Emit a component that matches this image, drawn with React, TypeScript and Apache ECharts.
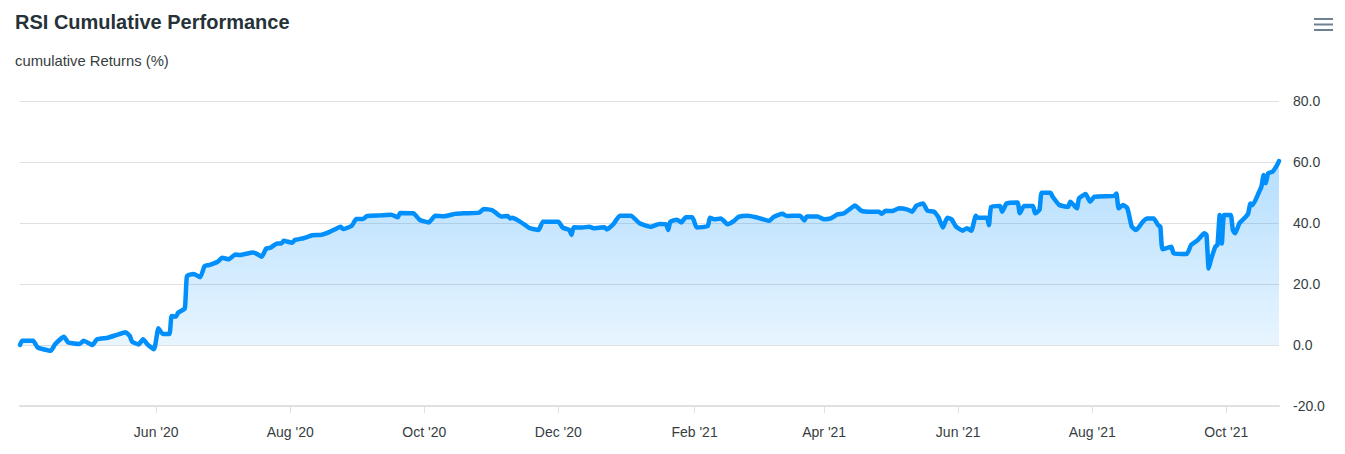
import React, { useEffect, useRef } from "react";
import * as echarts from "echarts";

const dates = [
  "2020-03-31","2020-04-01","2020-04-06","2020-04-08","2020-04-14","2020-04-16","2020-04-20","2020-04-22","2020-04-27","2020-04-29",
  "2020-05-03","2020-05-05","2020-05-10","2020-05-14","2020-05-18","2020-05-20","2020-05-21","2020-05-24","2020-05-26","2020-05-28",
  "2020-05-31","2020-06-02","2020-06-04","2020-06-07","2020-06-08","2020-06-10","2020-06-11","2020-06-14","2020-06-15","2020-06-18",
  "2020-06-21","2020-06-23","2020-06-25","2020-06-29","2020-07-01","2020-07-04","2020-07-07","2020-07-09","2020-07-15","2020-07-17",
  "2020-07-19","2020-07-21","2020-07-23","2020-07-26","2020-07-28","2020-07-29","2020-08-02","2020-08-03","2020-08-07","2020-08-11",
  "2020-08-15","2020-08-19","2020-08-24","2020-08-25","2020-08-29","2020-08-31","2020-09-03","2020-09-05","2020-09-11","2020-09-16",
  "2020-09-19","2020-09-20","2020-09-26","2020-09-29","2020-10-03","2020-10-06","2020-10-10","2020-10-15","2020-10-19","2020-10-26",
  "2020-10-28","2020-11-01","2020-11-05","2020-11-08","2020-11-09","2020-11-10","2020-11-13","2020-11-16","2020-11-18","2020-11-22",
  "2020-11-24","2020-12-01","2020-12-03","2020-12-06","2020-12-07","2020-12-08","2020-12-12","2020-12-15","2020-12-17","2020-12-22",
  "2020-12-23","2020-12-26","2020-12-29","2021-01-03","2021-01-07","2021-01-12","2021-01-16","2021-01-19","2021-01-20","2021-01-21",
  "2021-01-24","2021-01-26","2021-01-28","2021-01-31","2021-02-02","2021-02-07","2021-02-08","2021-02-10","2021-02-13","2021-02-16",
  "2021-02-19","2021-02-21","2021-02-25","2021-03-01","2021-03-07","2021-03-09","2021-03-13","2021-03-15","2021-03-21","2021-03-23",
  "2021-03-24","2021-03-29","2021-04-01","2021-04-04","2021-04-07","2021-04-10","2021-04-14","2021-04-15","2021-04-18","2021-04-22",
  "2021-04-26","2021-04-27","2021-04-29","2021-05-02","2021-05-05","2021-05-09","2021-05-11","2021-05-13","2021-05-16","2021-05-18",
  "2021-05-21","2021-05-23","2021-05-25","2021-05-27","2021-05-29","2021-05-31","2021-06-03","2021-06-05","2021-06-07","2021-06-09",
  "2021-06-10","2021-06-14","2021-06-15","2021-06-16","2021-06-20","2021-06-21","2021-06-23","2021-06-28","2021-06-29","2021-07-01",
  "2021-07-05","2021-07-06","2021-07-08","2021-07-09","2021-07-13","2021-07-14","2021-07-17","2021-07-21","2021-07-22","2021-07-25",
  "2021-07-26","2021-07-29","2021-07-31","2021-08-02","2021-08-11","2021-08-12","2021-08-13","2021-08-15","2021-08-17","2021-08-19",
  "2021-08-21","2021-08-24","2021-08-26","2021-08-29","2021-08-31","2021-09-01","2021-09-02","2021-09-06","2021-09-07","2021-09-13",
  "2021-09-15","2021-09-18","2021-09-21","2021-09-22","2021-09-23","2021-09-24","2021-09-26","2021-09-27","2021-09-28","2021-09-29",
  "2021-09-30","2021-10-03","2021-10-04","2021-10-05","2021-10-07","2021-10-10","2021-10-11","2021-10-12","2021-10-13","2021-10-16",
  "2021-10-17","2021-10-18","2021-10-19","2021-10-20","2021-10-22","2021-10-24","2021-10-25",
];

const cumulativeReturns = [
  0, 1.4, 1.4, -0.8, -1.9, 0.3, 2.7, 0.8, 0.3, 1.4,
  0, 1.9, 2.4, 3.3, 4.2, 2.9, 1.1, 0.2, 1.9, 0.2,
  -1.4, 5.5, 3.6, 3.6, 9.5, 9.3, 10.6, 12.0, 22.6, 23.3,
  22.2, 25.9, 26.2, 27.3, 28.6, 28.1, 29.7, 29.5, 30.3, 29.8,
  28.9, 31.6, 31.9, 33.3, 33.3, 34.2, 33.5, 34.4, 35.0, 36.0,
  36.1, 37.1, 38.8, 38.0, 39.1, 41.3, 41.3, 42.3, 42.5, 42.7,
  41.9, 43.3, 43.2, 41.0, 40.2, 42.4, 42.2, 43.0, 43.2, 43.4,
  44.6, 44.2, 42.1, 42.3, 41.5, 41.7, 40.7, 39.3, 38.3, 37.7,
  40.4, 40.4, 38.5, 37.7, 36.1, 38.6, 38.5, 38.8, 38.3, 38.6,
  37.9, 39.6, 42.4, 42.4, 39.9, 38.8, 39.7, 39.6, 37.7, 40.4,
  41.1, 40.2, 41.9, 41.9, 38.5, 39.0, 41.7, 41.2, 41.5, 39.6,
  40.7, 42.0, 42.4, 41.9, 40.7, 42.0, 43.0, 42.3, 42.4, 40.8,
  42.1, 42.1, 41.2, 41.5, 42.8, 43.2, 45.3, 45.7, 44.0, 43.7,
  43.7, 43.0, 44.0, 43.9, 44.8, 44.4, 43.7, 45.7, 46.4, 44.0,
  43.7, 41.9, 38.5, 41.7, 41.2, 38.8, 37.5, 38.3, 37.5, 42.4,
  41.7, 41.7, 39.3, 45.3, 45.6, 43.7, 46.4, 46.7, 43.2, 45.6,
  45.6, 43.2, 44.3, 49.9, 49.9, 48.6, 45.9, 45.3, 47.0, 44.8,
  48.1, 49.5, 47.0, 48.6, 48.9, 49.7, 44.8, 45.9, 44.8, 38.8,
  37.7, 40.4, 41.5, 41.5, 39.3, 38.8, 31.4, 32.2, 30.1, 29.8,
  32.8, 34.4, 36.6, 36.1, 25.1, 27.9, 32.2, 32.8, 42.6, 33.3,
  42.6, 42.6, 37.7, 36.6, 39.9, 42.1, 43.2, 46.4, 45.9, 50.3,
  51.9, 55.7, 53.0, 56.3, 56.8, 58.8, 60.3,
];

const tickDates = [
  "2020-06-01", "2020-08-01", "2020-10-01", "2020-12-01", "2021-02-01",
  "2021-04-01", "2021-06-01", "2021-08-01", "2021-10-01",
];
const tickLabels = [
  "Jun '20", "Aug '20", "Oct '20", "Dec '20", "Feb '21",
  "Apr '21", "Jun '21", "Aug '21", "Oct '21",
];

const yMin = -20;
const yMax = 80;
const yStep = 20;

const titleText = "RSI Cumulative Performance";
const subtitleText = "cumulative Returns (%)";

const FONT = "'Liberation Sans', Arial, Helvetica, sans-serif";

function toTs(s: string): number {
  const [y, m, d] = s.split("-").map(Number);
  return Date.UTC(y, m - 1, d);
}

export default function App() {
  const ref = useRef<HTMLDivElement>(null);

  useEffect(() => {
    document.body.style.margin = "0";
    if (!ref.current) return;
    const chart = echarts.init(ref.current, undefined, { renderer: "svg" });
    const tickTs = tickDates.map(toTs);
    const data = dates.map((d, i) => [toTs(d), cumulativeReturns[i]]);

    chart.setOption({
      animation: false,
      backgroundColor: "#ffffff",
      textStyle: { fontFamily: FONT },
      title: [
        {
          text: titleText,
          left: 10,
          top: 7,
          textStyle: { fontFamily: FONT, fontSize: 20, fontWeight: "bold", color: "#263238" },
        },
        {
          text: subtitleText,
          left: 10,
          top: 48,
          textStyle: { fontFamily: FONT, fontSize: 14.8, fontWeight: "normal", color: "#373d3f" },
        },
      ],
      grid: { left: 20, right: 66, top: 101, bottom: 48, containLabel: false },
      xAxis: {
        type: "value",
        min: toTs(dates[0]),
        max: toTs(dates[dates.length - 1]),
        axisLine: { show: true, onZero: false, lineStyle: { color: "#e0e0e0", width: 2 } },
        axisTick: {
          show: true,
          customValues: tickTs,
          length: 7,
          lineStyle: { color: "#e0e0e0", width: 1 },
        },
        axisLabel: {
          customValues: tickTs,
          margin: 19,
          fontFamily: FONT,
          fontSize: 14,
          color: "#373d3f",
          showMinLabel: true,
          showMaxLabel: true,
          formatter: (v: number) => {
            let best = 0;
            let bd = Infinity;
            tickTs.forEach((t, i) => {
              const dd = Math.abs(t - v);
              if (dd < bd) { bd = dd; best = i; }
            });
            return tickLabels[best];
          },
        },
        splitLine: { show: false },
      },
      yAxis: {
        type: "value",
        position: "right",
        min: yMin,
        max: yMax,
        interval: yStep,
        axisLine: { show: false },
        axisTick: { show: false },
        axisLabel: {
          margin: 14,
          fontFamily: FONT,
          fontSize: 14,
          color: "#373d3f",
          formatter: (v: number) => v.toFixed(1),
        },
        splitLine: { lineStyle: { color: "#e0e0e0", width: 1 } },
      },
      series: [
        {
          type: "line",
          data,
          showSymbol: false,
          smooth: 0.15,
          lineStyle: { color: "#008FFB", width: 4.5, join: "round", cap: "round" },
          itemStyle: { color: "#008FFB" },
          areaStyle: {
            color: new echarts.graphic.LinearGradient(0, 0, 0, 1, [
              { offset: 0, color: "rgba(0,143,251,0.42)" },
              { offset: 1, color: "rgba(0,143,251,0.12)" },
            ]),
          },
        },
      ],
      graphic: [
        { type: "rect", shape: { x: 1314, y: 18, width: 19, height: 2 }, style: { fill: "#6E8192" } },
        { type: "rect", shape: { x: 1314, y: 23.5, width: 19, height: 2 }, style: { fill: "#6E8192" } },
        { type: "rect", shape: { x: 1314, y: 29, width: 19, height: 2 }, style: { fill: "#6E8192" } },
      ],
    });

    return () => chart.dispose();
  }, []);

  return <div ref={ref} style={{ width: 1345, height: 454 }} />;
}
